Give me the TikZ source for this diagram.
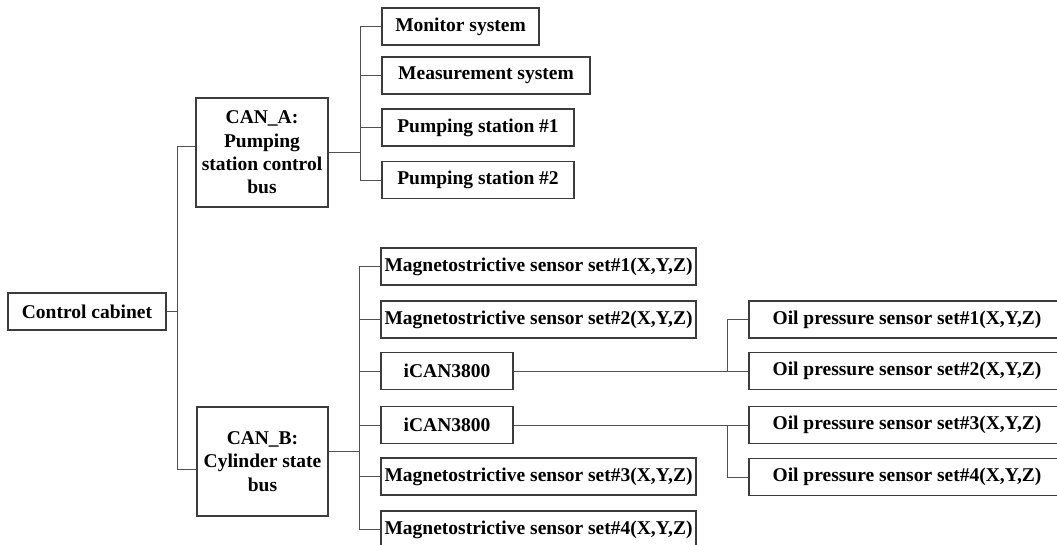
\documentclass[tikz,border=0pt]{standalone}
\usepackage{fontspec}
\setmainfont{Liberation Serif}
\begin{document}
\begin{tikzpicture}[x=1pt,y=-1pt,
  box/.style={draw={rgb,255:red,60;green,60;blue,60}, line width=1.1pt, inner sep=0pt, minimum height=37pt,
    font=\fontsize{19.5}{23.3}\selectfont\bfseries, align=center, anchor=center},
  conn/.style={draw={rgb,255:red,80;green,80;blue,80}, line width=1pt}]
\useasboundingbox (0,0) rectangle (1057,544);
\clip (0,0) rectangle (1057,544);
% nodes
\node[box, minimum width=158pt] (cc) at (87,311.5) {Control cabinet};
\node[box, minimum width=132pt, minimum height=109pt] (canA) at (262,152.5) {CAN\_A:\\Pumping\\station control\\bus};
\node[box, minimum width=131pt, minimum height=109pt] (canB) at (262.5,461.5) {CAN\_B:\\Cylinder state\\bus};
\node[box, minimum width=157pt] (mon) at (460.5,26.5) {Monitor system};
\node[box, minimum width=208pt] (meas) at (486,75.5) {Measurement system};
\node[box, minimum width=192pt] (p1) at (478,127.5) {Pumping station \#1};
\node[box, minimum width=192pt] (p2) at (478,180) {Pumping station \#2};
\node[box, minimum width=315pt] (mag1) at (538.5,266.5) {Magnetostrictive sensor set\#1(X,Y,Z)};
\node[box, minimum width=315pt] (mag2) at (538.5,319.5) {Magnetostrictive sensor set\#2(X,Y,Z)};
\node[box, minimum width=132pt] (ican1) at (447,371) {iCAN3800};
\node[box, minimum width=132pt] (ican2) at (447,425) {iCAN3800};
\node[box, minimum width=315pt] (mag3) at (538.5,476.5) {Magnetostrictive sensor set\#3(X,Y,Z)};
\node[box, minimum width=315pt] (mag4) at (538.5,529.5) {Magnetostrictive sensor set\#4(X,Y,Z)};
\node[box, minimum width=316pt] (oil1) at (907,319.5) {Oil pressure sensor set\#1(X,Y,Z)};
\node[box, minimum width=316pt] (oil2) at (907,371) {Oil pressure sensor set\#2(X,Y,Z)};
\node[box, minimum width=316pt] (oil3) at (907,425) {Oil pressure sensor set\#3(X,Y,Z)};
\node[box, minimum width=316pt] (oil4) at (907,477) {Oil pressure sensor set\#4(X,Y,Z)};
% bus coordinates
\coordinate (ta) at (177,146);
\coordinate (tb) at (177,469);
\coordinate (busA) at (360,0);
\coordinate (busB) at (359,0);
\coordinate (busC) at (727,0);
% trunk
\draw[conn] (cc.east) -- (cc.east -| ta);
\draw[conn] (canA.west |- ta) -- (ta) -- (tb) -- (canB.west |- tb);
% CAN_A branch
\draw[conn] (canA.east) -- (canA.east -| busA);
\draw[conn] (mon.west) -- (mon.west -| busA) -- (p2.west -| busA) -- (p2.west);
\draw[conn] (meas.west) -- (meas.west -| busA);
\draw[conn] (p1.west) -- (p1.west -| busA);
% CAN_B branch
\draw[conn] (canB.east |- 0,451) -- (busB |- 0,451);
\draw[conn] (mag1.west) -- (mag1.west -| busB) -- (mag4.west -| busB) -- (mag4.west);
\draw[conn] (mag2.west) -- (mag2.west -| busB);
\draw[conn] (ican1.west) -- (ican1.west -| busB);
\draw[conn] (ican2.west) -- (ican2.west -| busB);
\draw[conn] (mag3.west) -- (mag3.west -| busB);
% iCAN branches
\draw[conn] (ican1.east) -- (ican1.east -| busC);
\draw[conn] (oil1.west) -- (oil1.west -| busC) -- (oil2.west -| busC) -- (oil2.west);
\draw[conn] (ican2.east) -- (ican2.east -| busC);
\draw[conn] (oil3.west) -- (oil3.west -| busC) -- (oil4.west -| busC) -- (oil4.west);
\end{tikzpicture}
\end{document}
